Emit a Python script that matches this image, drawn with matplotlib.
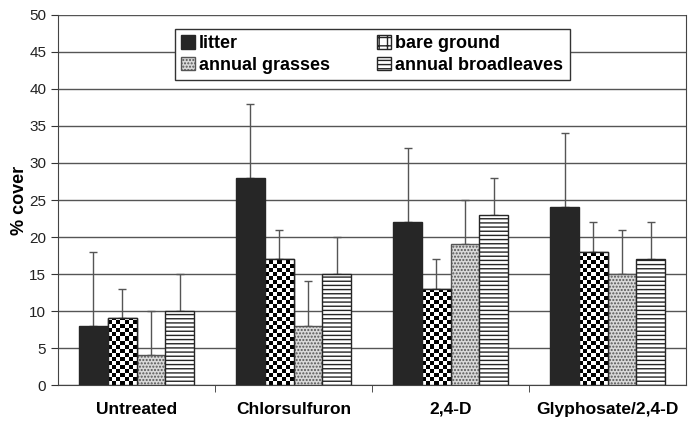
import numpy as np
import matplotlib
matplotlib.use('Agg')
import matplotlib.pyplot as plt
from matplotlib.patches import Patch

plt.rcParams['font.family'] = ['Liberation Sans', 'DejaVu Sans']

categories = ['Untreated', 'Chlorsulfuron', '2,4-D', 'Glyphosate/2,4-D']
series = ['litter', 'bare ground', 'annual grasses', 'annual broadleaves']
litter = [8, 28, 22, 24]
litter_err = [10, 10, 10, 10]
bare = [9, 17, 13, 18]
bare_err = [4, 4, 4, 4]
grasses = [4, 8, 19, 15]
grasses_err = [6, 6, 6, 6]
broadleaves = [10, 15, 23, 17]
broadleaves_err = [5, 5, 5, 5]

values = [litter, bare, grasses, broadleaves]
errors = [litter_err, bare_err, grasses_err, broadleaves_err]

fig = plt.figure(figsize=(6.91, 4.26), dpi=100)
ax = fig.add_axes([0.084, 0.096, 0.909, 0.869])

x = np.arange(len(categories))
w = 0.183
offsets = (np.arange(4) - 1.5) * w

# checkerboard texture for bare ground (squares of about 4 px)
checker = np.indices((92, 7)).sum(axis=0) % 2

for i, (vals, errs) in enumerate(zip(values, errors)):
    xs = x + offsets[i]
    if i == 0:
        bars = ax.bar(xs, vals, w, color='#262626', edgecolor='#262626', lw=1, zorder=3)
    elif i == 1:
        bars = ax.bar(xs, vals, w, color='white', edgecolor='#262626', lw=1, zorder=3)
        for b in bars:
            im = ax.imshow(checker, cmap='gray_r', vmin=0, vmax=1, interpolation='nearest',
                           extent=[b.get_x(), b.get_x() + w, 0, 50],
                           origin='lower', aspect='auto', zorder=3.5)
            im.set_clip_path(b)
        bars = ax.bar(xs, vals, w, fill=False, edgecolor='#262626', lw=1, zorder=4)
    elif i == 2:
        bars = ax.bar(xs, vals, w, color='#d9d9d9', edgecolor='#555555', lw=1, zorder=3,
                      hatch='.....')
    else:
        bars = ax.bar(xs, vals, w, color='white', edgecolor='#262626', lw=1, zorder=3,
                      hatch='----')
    ax.errorbar(xs, vals, yerr=[np.zeros(len(errs)), errs], fmt='none',
                ecolor='#555555', elinewidth=1, capsize=3, capthick=1, zorder=2)

ax.set_ylim(0, 50)
ax.set_xlim(-0.5, 3.5)
ax.set_yticks(range(0, 51, 5))
ax.yaxis.grid(True, color='#555555', lw=1)
ax.set_axisbelow(True)
ax.set_xticks(x)
ax.set_xticklabels(categories, fontsize=12.5, fontweight='bold')
ax.set_xticks([0.5, 1.5, 2.5], minor=True)
ax.tick_params(axis='x', which='major', length=0, pad=12)
ax.tick_params(axis='x', which='minor', length=5, color='#333333')
ax.tick_params(axis='y', labelsize=11, length=5, color='#333333', labelcolor='#222222')
ax.set_ylabel('% cover', fontsize=13, fontweight='bold', labelpad=1)

ax.spines['top'].set_visible(False)
for s in ['left', 'bottom', 'right']:
    ax.spines[s].set_color('#444444')

# legend, filled column by column: litter, annual grasses | bare ground, annual broadleaves
handles = [
    Patch(facecolor='#262626', edgecolor='#262626'),
    Patch(facecolor='#d9d9d9', edgecolor='#555555', hatch='.....'),
    Patch(facecolor='white', edgecolor='#262626', hatch='++'),
    Patch(facecolor='white', edgecolor='#262626', hatch='----'),
]
labels = [series[0], series[2], series[1], series[3]]
leg = ax.legend(handles, labels, ncol=2, loc='upper left', bbox_to_anchor=(0.186, 0.962),
                borderaxespad=0, frameon=True, fancybox=False, edgecolor='#333333',
                framealpha=1, prop={'weight': 'bold', 'size': 13}, handlelength=0.75,
                handleheight=0.75, handletextpad=0.25, columnspacing=2.6, borderpad=0.35,
                labelspacing=0.25)
leg.get_frame().set_linewidth(1)
leg.set_zorder(10)

fig.savefig('out.png', dpi=100)
